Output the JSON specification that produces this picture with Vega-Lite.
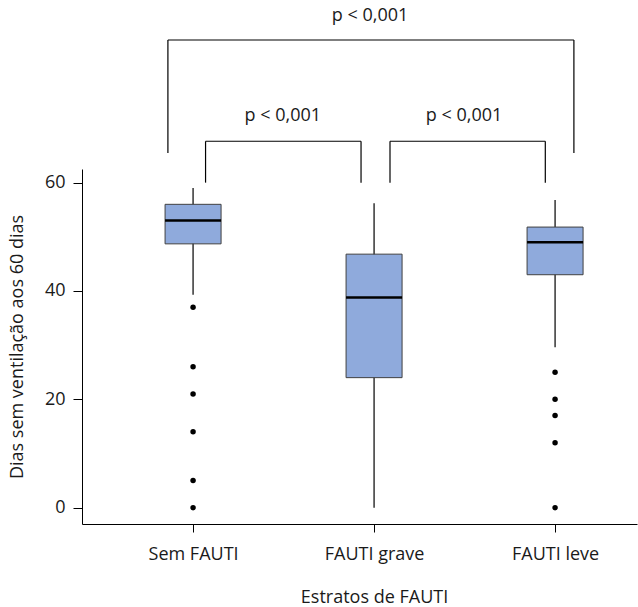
{
  "$schema": "https://vega.github.io/schema/vega-lite/v6.json",
  "autosize": "none",
  "width": 555,
  "height": 355,
  "padding": {"left": 82, "top": 169, "right": 1, "bottom": 83},
  "background": "white",
  "config": {
    "font": "Open Sans",
    "view": {"stroke": null},
    "axis": {"grid": false, "domainColor": "#000000", "tickColor": "#000000", "labelColor": "#1a1a1a", "titleColor": "#1a1a1a", "labelFontSize": 18, "titleFontSize": 18, "titleFontWeight": "normal", "labelFont": "Open Sans", "titleFont": "Open Sans"}
  },
  "datasets": {
    "boxes": [
      {"grupo": "Sem FAUTI", "pos": 1, "min": 39.3, "q1": 48.7, "mediana": 53, "q3": 56, "max": 59},
      {"grupo": "FAUTI grave", "pos": 2, "min": 0, "q1": 24, "mediana": 38.8, "q3": 46.8, "max": 56.2},
      {"grupo": "FAUTI leve", "pos": 3, "min": 29.6, "q1": 43, "mediana": 49, "q3": 51.8, "max": 56.8}
    ],
    "outliers": [
      {"pos": 1, "dias": 37}, {"pos": 1, "dias": 26}, {"pos": 1, "dias": 21}, {"pos": 1, "dias": 14}, {"pos": 1, "dias": 5}, {"pos": 1, "dias": 0},
      {"pos": 3, "dias": 25}, {"pos": 3, "dias": 20}, {"pos": 3, "dias": 17}, {"pos": 3, "dias": 12}, {"pos": 3, "dias": 0}
    ],
    "brackets": [
      {"x1": 0.861, "x2": 3.104, "y1": 86.34, "y2": 86.34},
      {"x1": 0.861, "x2": 0.861, "y1": 86.34, "y2": 65.48},
      {"x1": 3.104, "x2": 3.104, "y1": 86.34, "y2": 65.48},
      {"x1": 1.069, "x2": 1.928, "y1": 67.64, "y2": 67.64},
      {"x1": 1.069, "x2": 1.069, "y1": 67.64, "y2": 60},
      {"x1": 1.928, "x2": 1.928, "y1": 67.64, "y2": 60},
      {"x1": 2.088, "x2": 2.946, "y1": 67.64, "y2": 67.64},
      {"x1": 2.088, "x2": 2.088, "y1": 67.64, "y2": 60},
      {"x1": 2.946, "x2": 2.946, "y1": 67.64, "y2": 60}
    ],
    "pvalues": [
      {"x": 1.978, "y": 90.8, "texto": "p < 0,001"},
      {"x": 1.496, "y": 72.3, "texto": "p < 0,001"},
      {"x": 2.497, "y": 72.3, "texto": "p < 0,001"}
    ]
  },
  "layer": [
    {
      "data": {"name": "boxes"},
      "mark": {"type": "rule", "color": "#000000", "strokeWidth": 1.2},
      "encoding": {
        "x": {"field": "pos", "type": "quantitative",
          "scale": {"domain": [0.414, 3.425], "nice": false, "zero": false},
          "axis": {"values": [1, 2, 3], "labelExpr": "datum.value == 1 ? 'Sem FAUTI' : datum.value == 2 ? 'FAUTI grave' : 'FAUTI leve'", "tickSize": 8, "labelPadding": 13, "title": "Estratos de FAUTI", "titleX": 292, "titleY": 73, "titleBaseline": "middle", "titleAlign": "center", "labelFlush": false, "labelOverlap": false}},
        "y": {"field": "min", "type": "quantitative",
          "scale": {"domain": [-3.02, 62.52], "nice": false, "zero": false},
          "axis": {"values": [0, 20, 40, 60], "tickSize": 9, "labelPadding": 8, "title": "Dias sem ventilação aos 60 dias", "titleX": -65, "titleY": 177.5, "titleBaseline": "middle", "titleAlign": "center"}},
        "y2": {"field": "max"}
      }
    },
    {
      "data": {"name": "boxes"},
      "mark": {"type": "bar", "size": 56, "fill": "#8FAADC", "stroke": "#404040", "strokeWidth": 1},
      "encoding": {
        "x": {"field": "pos", "type": "quantitative"},
        "y": {"field": "q1", "type": "quantitative"},
        "y2": {"field": "q3"}
      }
    },
    {
      "data": {"name": "boxes"},
      "mark": {"type": "tick", "orient": "horizontal", "size": 56, "thickness": 2.5, "color": "#000000", "opacity": 1},
      "encoding": {
        "x": {"field": "pos", "type": "quantitative"},
        "y": {"field": "mediana", "type": "quantitative"}
      }
    },
    {
      "data": {"name": "outliers"},
      "mark": {"type": "circle", "size": 30, "color": "#000000", "opacity": 1},
      "encoding": {
        "x": {"field": "pos", "type": "quantitative"},
        "y": {"field": "dias", "type": "quantitative"}
      }
    },
    {
      "data": {"name": "brackets"},
      "mark": {"type": "rule", "color": "#000000", "strokeWidth": 1.2, "clip": false},
      "encoding": {
        "x": {"field": "x1", "type": "quantitative"},
        "x2": {"field": "x2"},
        "y": {"field": "y1", "type": "quantitative"},
        "y2": {"field": "y2"}
      }
    },
    {
      "data": {"name": "pvalues"},
      "mark": {"type": "text", "fontSize": 18, "font": "Open Sans", "color": "#1a1a1a", "align": "center", "baseline": "middle", "clip": false},
      "encoding": {
        "x": {"field": "x", "type": "quantitative"},
        "y": {"field": "y", "type": "quantitative"},
        "text": {"field": "texto"}
      }
    }
  ]
}
